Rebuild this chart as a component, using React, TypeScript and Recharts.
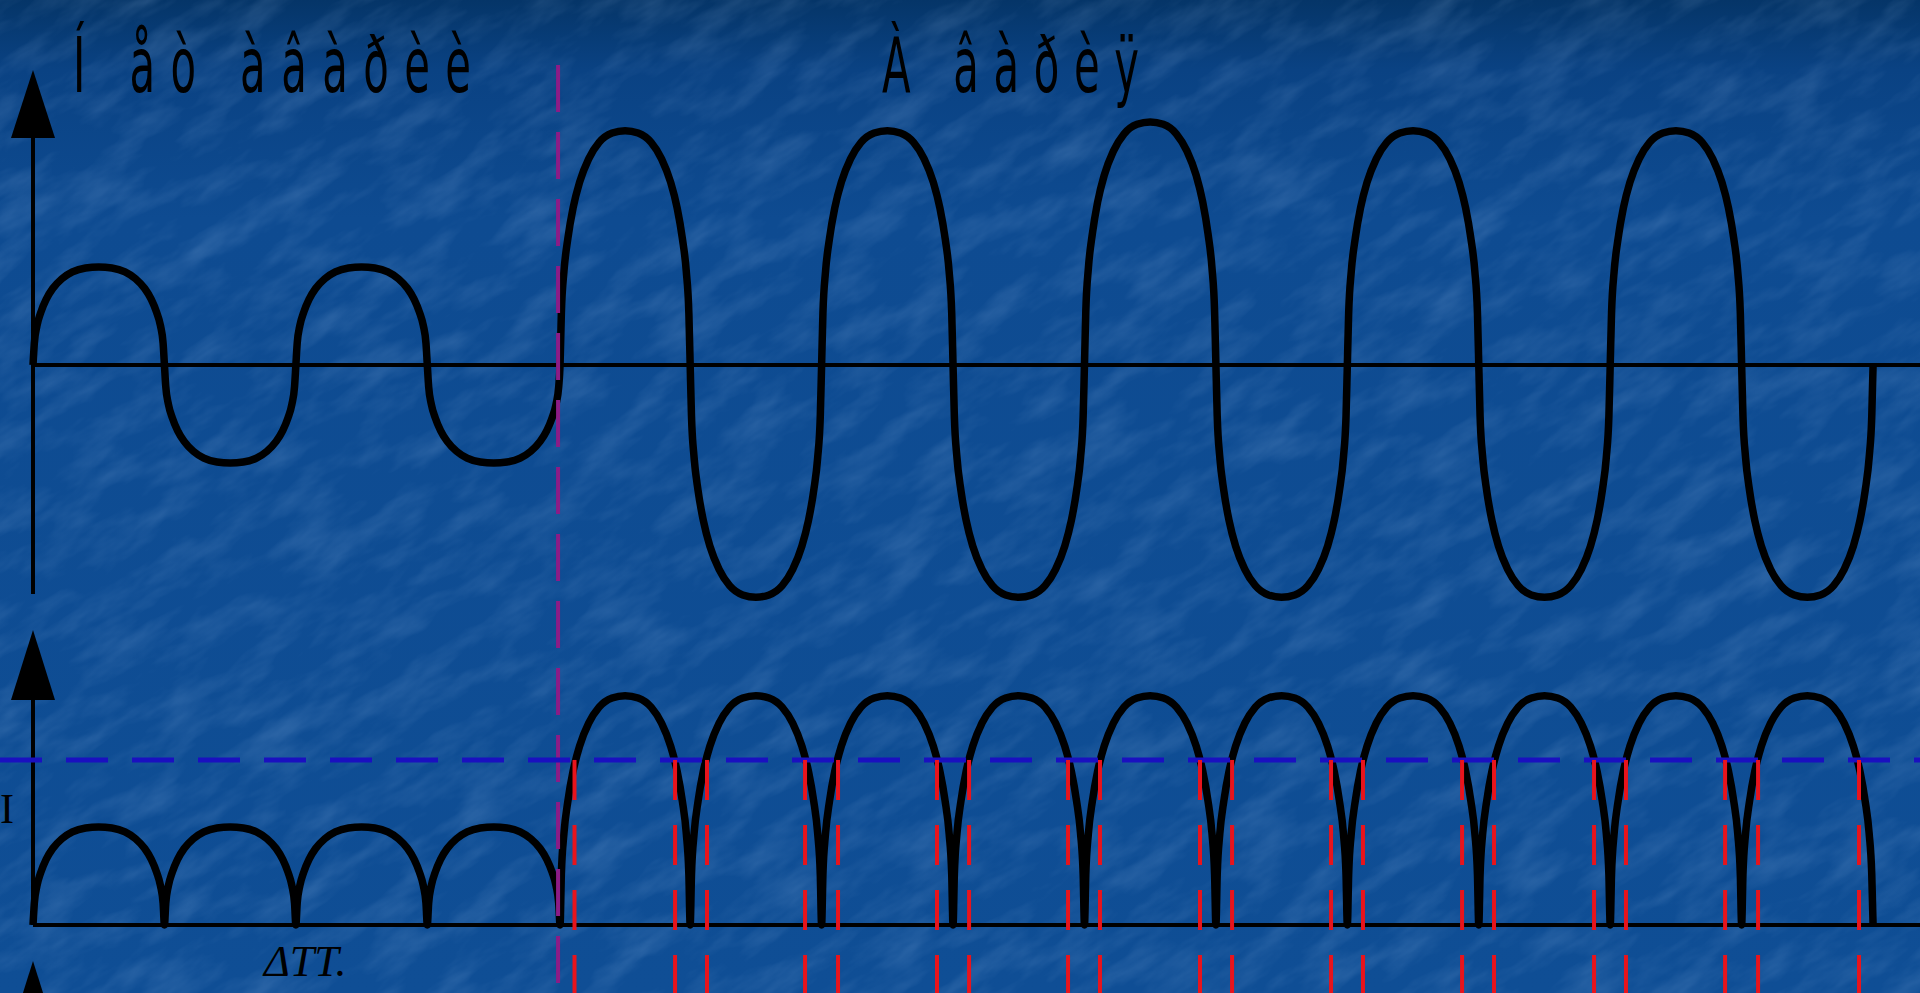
import * as React from 'react';
import { LineChart, Line, XAxis, YAxis, ReferenceLine, ReferenceDot } from 'recharts';

// Time is measured in half-periods of the supply wave; 1 unit of amplitude = normal peak.
const zeroCrossings = [0, 1, 2, 3, 4.01, 5, 6, 7, 8, 9, 10, 11, 12, 13, 14];
// signed peak of each half-wave (top trace)
const signalPeaks = [1, -1, 1, -1, 2.39, -2.37, 2.39, -2.37, 2.48, -2.37, 2.39, -2.37, 2.39, -2.37];
// peak of each rectified arch (bottom trace)
const rectifiedPeaks = [1, 1, 1, 1, 2.34, 2.34, 2.34, 2.34, 2.34, 2.34, 2.34, 2.34, 2.34, 2.34];
// shape of one half-wave (position within half-period, height fraction)
const lobeU = [0, 0.01, 0.03, 0.06, 0.1, 0.15, 0.22, 0.3, 0.4, 0.5, 0.6, 0.7, 0.78, 0.85, 0.9, 0.94, 0.97, 0.99, 1];
const lobeH = [0, 0.22, 0.4, 0.54, 0.67, 0.78, 0.88, 0.95, 0.99, 1, 0.99, 0.95, 0.88, 0.78, 0.67, 0.54, 0.4, 0.22, 0];

const faultTime = 3.995;
const threshold = 1.684;
const redTimes = [4.12, 4.885, 5.128, 5.874, 6.125, 6.878, 7.122, 7.875, 8.118, 8.879, 9.123, 9.876, 10.119, 10.873, 11.116, 11.877, 12.12, 12.874, 13.125, 13.893];

const titleNormal = 'Í åò àâàðèè';
const titleFault = 'À âàðèÿ';

const X_MIN = -0.2511;
const X_MAX = 14.357;

const rows: { t: number; top: number; bot: number }[] = [];
signalPeaks.forEach((peak, k) => {
  const t0 = zeroCrossings[k];
  const t1 = zeroCrossings[k + 1];
  lobeU.forEach((u, i) => {
    if (k > 0 && i === 0) return;
    rows.push({
      t: t0 + u * (t1 - t0),
      top: peak * lobeH[i],
      bot: rectifiedPeaks[k] * lobeH[i],
    });
  });
});

const arrowUp = (w: number, h: number) => (props: any) => {
  const { cx, cy } = props;
  return <polygon points={`${cx},${cy} ${cx - w / 2},${cy + h} ${cx + w / 2},${cy + h}`} fill="#000" />;
};

export default function App() {
  return (
    <div style={{ position: 'absolute', left: 0, top: 0, width: 1920, height: 993, overflow: 'hidden' }}>
      <svg width={1920} height={993} style={{ position: 'absolute', left: 0, top: 0 }}>
        <defs>
          <linearGradient id="bg" x1="0" y1="0" x2="0" y2="1">
            <stop offset="0%" stopColor="#053568" />
            <stop offset="7%" stopColor="#0a4283" />
            <stop offset="22%" stopColor="#0e4b91" />
            <stop offset="100%" stopColor="#0f4e95" />
          </linearGradient>
          <filter id="tex" x="0" y="0" width="100%" height="100%">
            <feTurbulence type="fractalNoise" baseFrequency="0.014 0.04" numOctaves={4} seed={7} />
            <feColorMatrix type="matrix" values="0 0 0 0 0.5  0 0 0 0 0.7  0 0 0 0 1  1.8 0 0 0 -0.75" />
          </filter>
        </defs>
        <rect width={1920} height={993} fill="url(#bg)" />
        <g transform="rotate(-32 960 496)">
          <rect x={-600} y={-600} width={3120} height={2200} filter="url(#tex)" opacity={0.18} />
        </g>
      </svg>

      <div style={{ position: 'absolute', left: 0, top: 0 }}>
        <LineChart width={1920} height={993} data={rows} margin={{ top: 0, right: 0, bottom: 0, left: 0 }}>
          <XAxis type="number" dataKey="t" domain={[X_MIN, X_MAX]} hide allowDataOverflow />
          <YAxis yAxisId="top" type="number" domain={[-6.408, 3.724]} hide allowDataOverflow />
          <YAxis yAxisId="bot" type="number" domain={[-0.694, 9.439]} hide allowDataOverflow />

          {/* axes */}
          <ReferenceLine yAxisId="top" segment={[{ x: 0, y: 0 }, { x: X_MAX, y: 0 }]} stroke="#000" strokeWidth={4} ifOverflow="visible" />
          <ReferenceLine yAxisId="top" segment={[{ x: 0, y: -2.337 }, { x: 0, y: 2.4 }]} stroke="#000" strokeWidth={4} ifOverflow="visible" />
          <ReferenceDot yAxisId="top" x={0} y={3.01} ifOverflow="visible" shape={arrowUp(44, 68)} />
          <ReferenceLine yAxisId="bot" segment={[{ x: 0, y: 0 }, { x: X_MAX, y: 0 }]} stroke="#000" strokeWidth={4} ifOverflow="visible" />
          <ReferenceLine yAxisId="bot" segment={[{ x: 0, y: 0 }, { x: 0, y: 2.4 }]} stroke="#000" strokeWidth={4} ifOverflow="visible" />
          <ReferenceDot yAxisId="bot" x={0} y={3.01} ifOverflow="visible" shape={arrowUp(44, 70)} />
          <ReferenceDot yAxisId="bot" x={0} y={-0.367} ifOverflow="visible" shape={arrowUp(44, 70)} />

          <Line yAxisId="top" dataKey="top" type="monotone" stroke="#000" strokeWidth={7.5} dot={false} activeDot={false} isAnimationActive={false} />
          <Line yAxisId="bot" dataKey="bot" type="monotone" stroke="#000" strokeWidth={7.5} dot={false} activeDot={false} isAnimationActive={false} />

          {/* fault moment */}
          <ReferenceLine yAxisId="top" segment={[{ x: faultTime, y: 3.06 }, { x: faultTime, y: -6.408 }]} stroke="#8c1c86" strokeWidth={4} strokeDasharray="47 20" ifOverflow="visible" />
          {/* current threshold */}
          <ReferenceLine yAxisId="bot" segment={[{ x: X_MIN, y: threshold }, { x: X_MAX, y: threshold }]} stroke="#1a10c0" strokeWidth={5} strokeDasharray="42 24" ifOverflow="visible" />
          {redTimes.map((t, i) => (
            <ReferenceLine key={i} yAxisId="bot" segment={[{ x: t, y: threshold }, { x: t, y: -0.694 }]} stroke="#e8141c" strokeWidth={4} strokeDasharray="40 25" ifOverflow="visible" />
          ))}
        </LineChart>
      </div>

      <svg width={1920} height={993} style={{ position: 'absolute', left: 0, top: 0, pointerEvents: 'none' }}>
        <text transform="translate(73,92) scale(0.55,1)" x={0} y={0} fontFamily="DejaVu Sans" fontSize={76} fill="#000" textLength={398 / 0.55} lengthAdjust="spacing">
          {titleNormal}
        </text>
        <text transform="translate(882,92) scale(0.55,1)" x={0} y={0} fontFamily="DejaVu Sans" fontSize={76} fill="#000" textLength={257 / 0.55} lengthAdjust="spacing">
          {titleFault}
        </text>
        <text x={0} y={823} fontFamily="Liberation Serif" fontSize={42} fill="#000">I</text>
        <text x={264} y={976} fontFamily="Liberation Serif" fontStyle="italic" fontSize={44} fill="#000">ΔTT.</text>
      </svg>
    </div>
  );
}
